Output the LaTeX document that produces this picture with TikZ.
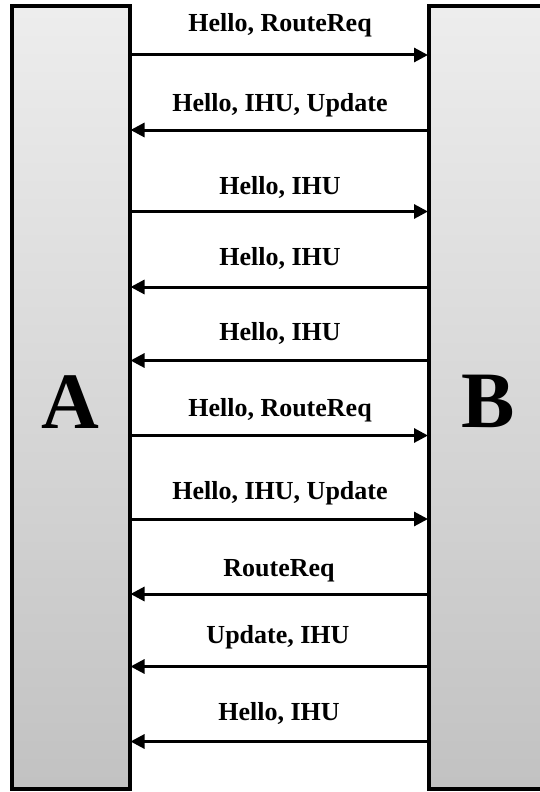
\documentclass[tikz,border=0pt]{standalone}
\usepackage{fontspec}
\setmainfont{Liberation Serif}
\usepackage{tikz}
\usetikzlibrary{arrows.meta, positioning}

\begin{document}
\begin{tikzpicture}[
    x=1pt, y=-1pt,
    font=\bfseries\fontsize{26}{30}\selectfont,
    peer/.style={
        draw,
        line width=4pt,
        outer sep=1pt,
        top color=black!7,
        bottom color=black!24,
        minimum width=117.5pt,
        minimum height=783pt,
        text height=61pt,
        font=\bfseries\fontsize{80}{80}\selectfont
    },
    msgtext/.style={
        anchor=base,
        inner sep=0pt
    },
    msg/.style={draw, line width=3pt, -{Triangle[length=14pt, width=14pt]}}
]
\useasboundingbox (0,0) rectangle (539,792);

\node[peer] (A) at (70.75,397.5) {A};
\node[peer] (B) at (487.75,397.5) {B};

% messages between the two peers
\node[msgtext] (m1) at (280,31.5) {Hello, RouteReq};
\node[msgtext] (m2) at (280,111.5) {Hello, IHU, Update};
\node[msgtext] (m3) at (280,194) {Hello, IHU};
\node[msgtext] (m4) at (280,265) {Hello, IHU};
\node[msgtext] (m5) at (280,340) {Hello, IHU};
\node[msgtext] (m6) at (280,416.5) {Hello, RouteReq};
\node[msgtext] (m7) at (280,499) {Hello, IHU, Update};
\node[msgtext] (m8) at (279,576) {RouteReq};
\node[msgtext] (m9) at (278,643) {Update, IHU};
\node[msgtext] (m10) at (279,720) {Hello, IHU};

\draw[msg] (A.east |- 0,55) -- (B.west |- 0,55);
\draw[msg] (B.west |- 0,130) -- (A.east |- 0,130);
\draw[msg] (A.east |- 0,211.5) -- (B.west |- 0,211.5);
\draw[msg] (B.west |- 0,287) -- (A.east |- 0,287);
\draw[msg] (B.west |- 0,360.5) -- (A.east |- 0,360.5);
\draw[msg] (A.east |- 0,435.5) -- (B.west |- 0,435.5);
\draw[msg] (A.east |- 0,519) -- (B.west |- 0,519);
\draw[msg] (B.west |- 0,594) -- (A.east |- 0,594);
\draw[msg] (B.west |- 0,666.5) -- (A.east |- 0,666.5);
\draw[msg] (B.west |- 0,741.5) -- (A.east |- 0,741.5);

\end{tikzpicture}
\end{document}
